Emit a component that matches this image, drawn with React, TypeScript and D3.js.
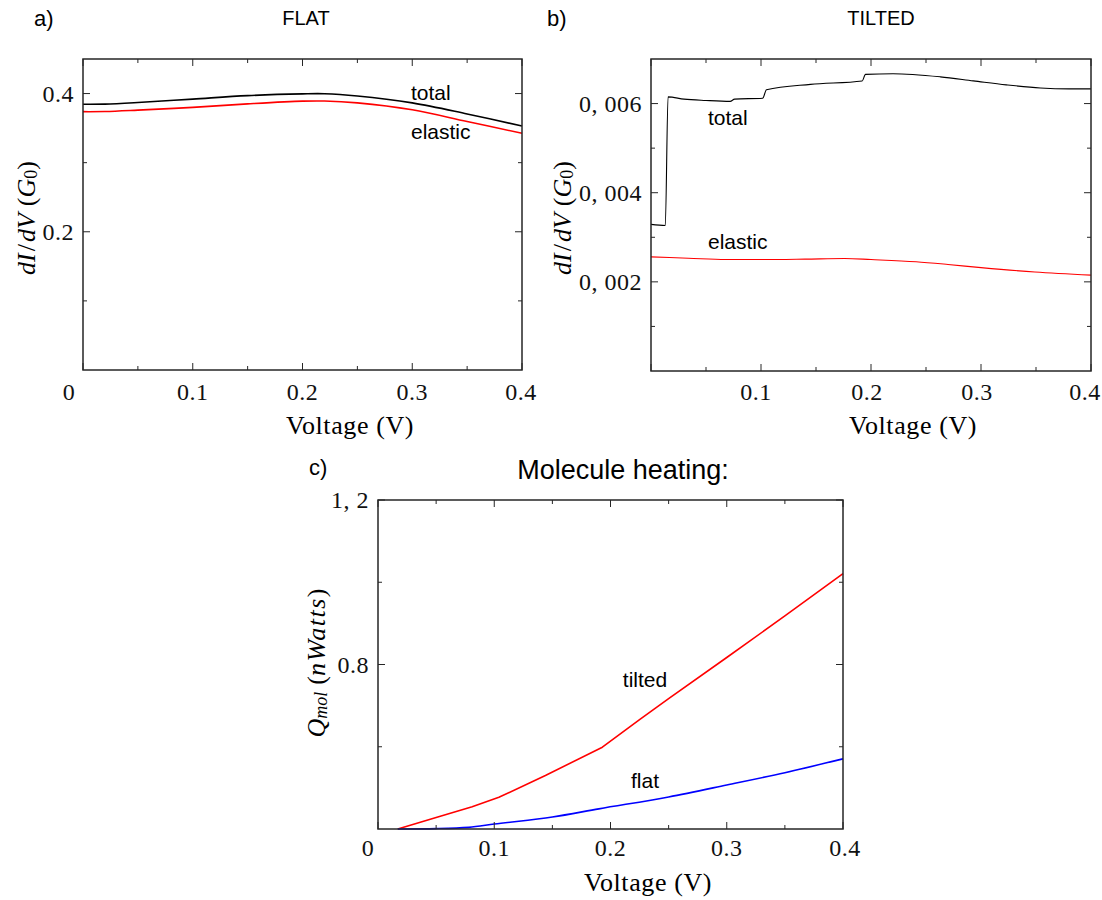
import React from 'react';
import * as d3 from 'd3';

// ---------- Panel a (FLAT) ----------
const voltsA = [0, 0.02, 0.05, 0.1, 0.15, 0.2, 0.22, 0.25, 0.3, 0.35, 0.4];
const totalA = [0.3845, 0.3847, 0.387, 0.392, 0.397, 0.3995, 0.3997, 0.3965, 0.3865, 0.3705, 0.353];
const elasticA = [0.3738, 0.374, 0.376, 0.38, 0.385, 0.389, 0.3892, 0.3865, 0.3765, 0.3595, 0.3425];

// ---------- Panel b (TILTED) ----------
const voltsBTotal = [0, 0.013, 0.0155, 0.03, 0.05, 0.072, 0.076, 0.1015, 0.105, 0.145, 0.192, 0.195, 0.22, 0.263, 0.293, 0.323, 0.354, 0.38, 0.4];
const totalB = [0.00329, 0.003265, 0.00615, 0.0061, 0.00607, 0.00605, 0.0061, 0.00612, 0.00631, 0.00643, 0.006506, 0.006656, 0.00667, 0.0066, 0.00651, 0.00642, 0.00635, 0.00633, 0.00633];
const voltsBElastic = [0, 0.034, 0.068, 0.1, 0.14, 0.176, 0.2, 0.241, 0.27, 0.3, 0.349, 0.4];
const elasticB = [0.00256, 0.00253, 0.0025, 0.0025, 0.00251, 0.002524, 0.0025, 0.00245, 0.00239, 0.00232, 0.00222, 0.00215];

// ---------- Panel c (Molecule heating) ----------
const voltsTilted = [0.017, 0.05, 0.081, 0.104, 0.144, 0.193, 0.225, 0.25, 0.3, 0.35, 0.4];
const heatTilted = [0.4, 0.428, 0.454, 0.477, 0.53, 0.599, 0.666, 0.717, 0.817, 0.918, 1.021];
const voltsFlat = [0.017, 0.05, 0.078, 0.1, 0.15, 0.19, 0.25, 0.3, 0.35, 0.4];
const heatFlat = [0.4, 0.401, 0.404, 0.412, 0.429, 0.449, 0.478, 0.507, 0.537, 0.5706];

// ---------- ticks ----------
const xMajorTicks = [0, 0.1, 0.2, 0.3, 0.4];
const xMinorTicks = [0.05, 0.15, 0.25, 0.35];
const xTickTextA = ['0', '0.1', '0.2', '0.3', '0.4'];
const xTickTextB = ['', '0.1', '0.2', '0.3', '0.4'];
const yMajorA = [0.2, 0.4];
const yMinorA = [0.1, 0.3];
const yTickTextA = ['0.2', '0.4'];
const yMajorB = [0.002, 0.004, 0.006];
const yMinorB = [0.001, 0.003, 0.005];
const yTickTextB = ['0, 002', '0, 004', '0, 006'];
const yMajorC = [0.8, 1.2];
const yMinorC = [0.6, 1.0];
const yTickTextC = ['0.8', '1, 2'];

const SERIF = "'Liberation Serif', 'Times New Roman', serif";
const SANS = "'Liberation Sans', Arial, sans-serif";

type SeriesDef = { xs: number[]; ys: number[]; color: string; width: number; curve: d3.CurveFactory };

type PanelProps = {
  left: number; right: number; top: number; bottom: number;
  yDomain: [number, number];
  yMajor: number[]; yMinor: number[]; yText: string[];
  xText: string[]; xTextShift: number[]; xTextY: number;
  series: SeriesDef[];
};

function Panel(p: PanelProps) {
  const x = d3.scaleLinear().domain([0, 0.4]).range([p.left, p.right]);
  const y = d3.scaleLinear().domain(p.yDomain).range([p.bottom, p.top]);
  const frameColor = '#262626';
  const major = 7;
  const minor = 4;
  const els: React.ReactNode[] = [];
  xMajorTicks.forEach((v, i) => {
    const px = x(v);
    els.push(<line key={'xmb' + i} x1={px} x2={px} y1={p.bottom} y2={p.bottom - major} stroke={frameColor} strokeWidth={1} />);
    els.push(<line key={'xmt' + i} x1={px} x2={px} y1={p.top} y2={p.top + major} stroke={frameColor} strokeWidth={1} />);
    if (p.xText[i]) {
      els.push(
        <text key={'xl' + i} x={px + p.xTextShift[i]} y={p.xTextY} textAnchor="middle" dominantBaseline="central"
          fontFamily={SERIF} fontSize={24} letterSpacing={0.5} fill="#111">{p.xText[i]}</text>
      );
    }
  });
  xMinorTicks.forEach((v, i) => {
    const px = x(v);
    els.push(<line key={'xnb' + i} x1={px} x2={px} y1={p.bottom} y2={p.bottom - minor} stroke={frameColor} strokeWidth={1} />);
    els.push(<line key={'xnt' + i} x1={px} x2={px} y1={p.top} y2={p.top + minor} stroke={frameColor} strokeWidth={1} />);
  });
  p.yMajor.forEach((v, i) => {
    const py = y(v);
    els.push(<line key={'yml' + i} x1={p.left} x2={p.left + major} y1={py} y2={py} stroke={frameColor} strokeWidth={1} />);
    els.push(<line key={'ymr' + i} x1={p.right} x2={p.right - major} y1={py} y2={py} stroke={frameColor} strokeWidth={1} />);
    els.push(
      <text key={'yl' + i} x={p.left - 9} y={py} textAnchor="end" dominantBaseline="central"
        fontFamily={SERIF} fontSize={24} letterSpacing={0.5} fill="#111">{p.yText[i]}</text>
    );
  });
  p.yMinor.forEach((v, i) => {
    const py = y(v);
    els.push(<line key={'ynl' + i} x1={p.left} x2={p.left + minor} y1={py} y2={py} stroke={frameColor} strokeWidth={1} />);
    els.push(<line key={'ynr' + i} x1={p.right} x2={p.right - minor} y1={py} y2={py} stroke={frameColor} strokeWidth={1} />);
  });
  const paths = p.series.map((s, i) => {
    const pts: [number, number][] = s.xs.map((v, k) => [v, s.ys[k]]);
    const gen = d3.line<[number, number]>().x(d => x(d[0])).y(d => y(d[1])).curve(s.curve);
    return <path key={'s' + i} d={gen(pts) || ''} fill="none" stroke={s.color} strokeWidth={s.width} strokeLinejoin="round" />;
  });
  return (
    <g>
      {paths}
      <rect x={p.left} y={p.top} width={p.right - p.left} height={p.bottom - p.top} fill="none" stroke={frameColor} strokeWidth={1.5} />
      {els}
    </g>
  );
}

function DIDV({ cx, cy }: { cx: number; cy: number }) {
  return (
    <text transform={`translate(${cx},${cy}) rotate(-90)`} fontFamily={SERIF} fontSize={26} textAnchor="middle" dominantBaseline="central">
      <tspan fontStyle="italic">dI</tspan><tspan dx={2}>/</tspan><tspan fontStyle="italic" dx={2}>dV</tspan><tspan dx={7}>(</tspan>
      <tspan fontStyle="italic">G</tspan><tspan fontSize={18} dy={5}>0</tspan><tspan dy={-5}>)</tspan>
    </text>
  );
}

export default function App() {
  return (
    <svg width={1102} height={900} style={{ position: 'absolute', left: 0, top: 0, background: '#fff' }}>
      <rect x={0} y={0} width={1102} height={900} fill="#fff" />
      {/* Panel a */}
      <text x={34} y={18} fontFamily={SANS} fontSize={22} dominantBaseline="central">a)</text>
      <text x={306} y={18} fontFamily={SANS} fontSize={20} textAnchor="middle" dominantBaseline="central">FLAT</text>
      <Panel left={83} right={522} top={59} bottom={370} yDomain={[0, 0.45]}
        yMajor={yMajorA} yMinor={yMinorA} yText={yTickTextA}
        xText={xTickTextA} xTextShift={[-14, 0, 0, 0, -1]} xTextY={392}
        series={[
          { xs: voltsA, ys: totalA, color: '#000', width: 1.6, curve: d3.curveCatmullRom },
          { xs: voltsA, ys: elasticA, color: '#ff0000', width: 1.6, curve: d3.curveCatmullRom },
        ]} />
      <text x={411} y={92} fontFamily={SANS} fontSize={21} dominantBaseline="central">total</text>
      <text x={411} y={131} fontFamily={SANS} fontSize={21} dominantBaseline="central">elastic</text>
      <text x={350} y={425} fontFamily={SERIF} fontSize={26} letterSpacing={0.6} textAnchor="middle" dominantBaseline="central">Voltage (V)</text>
      <DIDV cx={26} cy={218} />

      {/* Panel b */}
      <text x={547} y={18} fontFamily={SANS} fontSize={22} dominantBaseline="central">b)</text>
      <text x={881} y={18} fontFamily={SANS} fontSize={20} textAnchor="middle" dominantBaseline="central">TILTED</text>
      <Panel left={651} right={1091} top={59} bottom={371} yDomain={[0, 0.007]}
        yMajor={yMajorB} yMinor={yMinorB} yText={yTickTextB}
        xText={xTickTextB} xTextShift={[0, -5, -4, -4, -6]} xTextY={392}
        series={[
          { xs: voltsBTotal, ys: totalB, color: '#000', width: 1.1, curve: d3.curveMonotoneX },
          { xs: voltsBElastic, ys: elasticB, color: '#ff0000', width: 1.1, curve: d3.curveMonotoneX },
        ]} />
      <text x={708} y={117} fontFamily={SANS} fontSize={21} dominantBaseline="central">total</text>
      <text x={708} y={241} fontFamily={SANS} fontSize={21} dominantBaseline="central">elastic</text>
      <text x={913} y={425} fontFamily={SERIF} fontSize={26} letterSpacing={0.6} textAnchor="middle" dominantBaseline="central">Voltage (V)</text>
      <DIDV cx={562} cy={218} />

      {/* Panel c */}
      <text x={309} y={467} fontFamily={SANS} fontSize={22} dominantBaseline="central">c)</text>
      <text x={623} y={470} fontFamily={SANS} fontSize={27} textAnchor="middle" dominantBaseline="central">Molecule heating:</text>
      <Panel left={378} right={843} top={500} bottom={829} yDomain={[0.4, 1.2]}
        yMajor={yMajorC} yMinor={yMinorC} yText={yTickTextC}
        xText={xTickTextA} xTextShift={[-10, 0, 0, 0, 2]} xTextY={848}
        series={[
          { xs: voltsTilted, ys: heatTilted, color: '#ff0000', width: 1.6, curve: d3.curveLinear },
          { xs: voltsFlat, ys: heatFlat, color: '#0000ff', width: 1.6, curve: d3.curveMonotoneX },
        ]} />
      <text x={645} y={679} fontFamily={SANS} fontSize={21} textAnchor="middle" dominantBaseline="central">tilted</text>
      <text x={645} y={780} fontFamily={SANS} fontSize={21} textAnchor="middle" dominantBaseline="central">flat</text>
      <text x={648} y={882} fontFamily={SERIF} fontSize={26} letterSpacing={0.6} textAnchor="middle" dominantBaseline="central">Voltage (V)</text>
      <text transform="translate(316,663) rotate(-90)" fontFamily={SERIF} fontSize={26} textAnchor="middle" dominantBaseline="central">
        <tspan fontStyle="italic">Q</tspan><tspan fontStyle="italic" fontSize={18} dy={5}>mol</tspan>
        <tspan dy={-5} dx={7}>(</tspan><tspan fontStyle="italic" letterSpacing={1.5}>nWatts</tspan><tspan>)</tspan>
      </text>
    </svg>
  );
}
